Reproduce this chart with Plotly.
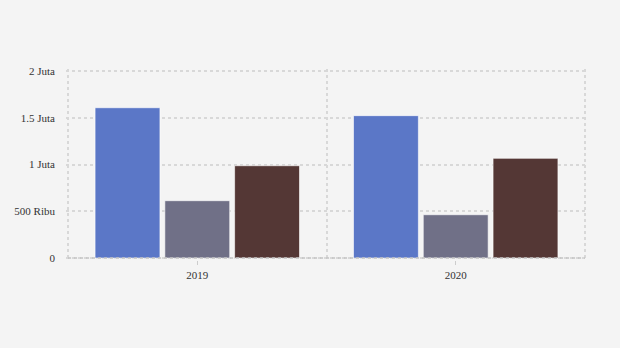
import plotly.graph_objects as go

categories = ["2019", "2020"]
series_a = [1607000, 1522000]
series_b = [613000, 463000]
series_c = [987000, 1066000]
colors = ["#5b77c7", "#707087", "#543735"]
y_ticks = [0, 500000, 1000000, 1500000, 2000000]
y_tick_labels = ["0", "500 Ribu", "1 Juta", "1.5 Juta", "2 Juta"]

x_pos = list(range(len(categories)))

fig = go.Figure()
for vals, col in zip([series_a, series_b, series_c], colors):
    fig.add_trace(go.Bar(x=x_pos, y=vals, marker=dict(color=col, line=dict(color="rgba(255,255,255,0.6)", width=1)),
                         hoverinfo="y"))

fig.update_layout(
    width=620, height=348,
    margin=dict(l=66, r=33, t=69, b=88),
    paper_bgcolor="#f4f4f4", plot_bgcolor="#f4f4f4",
    barmode="group", bargap=0.19, bargroupgap=0.07,
    showlegend=False,
    font=dict(family="Liberation Serif", size=11, color="#333333"),
)
fig.update_xaxes(
    range=[-0.508, 1.508], tickvals=x_pos, ticktext=categories,
    showgrid=False, zeroline=False, showline=False,
    ticks="outside", ticklen=4, tickcolor="#cccccc", ticklabelstandoff=1,
    minor=dict(tickvals=[-0.5, 0.5, 1.5], showgrid=True, gridcolor="#d8d8d8", griddash="3px,3px", gridwidth=1.5, ticks=""),
)
fig.update_yaxes(
    range=[-21000, 2021000], tickvals=y_ticks, ticktext=y_tick_labels,
    showgrid=True, gridcolor="#d8d8d8", griddash="3px,3px", gridwidth=1.5,
    zeroline=False, showline=False, ticks="", ticklabelstandoff=10,
)
fig.add_shape(type="line", xref="x", yref="y", x0=-0.5, x1=1.5, y0=0, y1=0,
              line=dict(color="#c2c2c2", width=1.5, dash="3px,3px"))
fig.write_html("out.html")
